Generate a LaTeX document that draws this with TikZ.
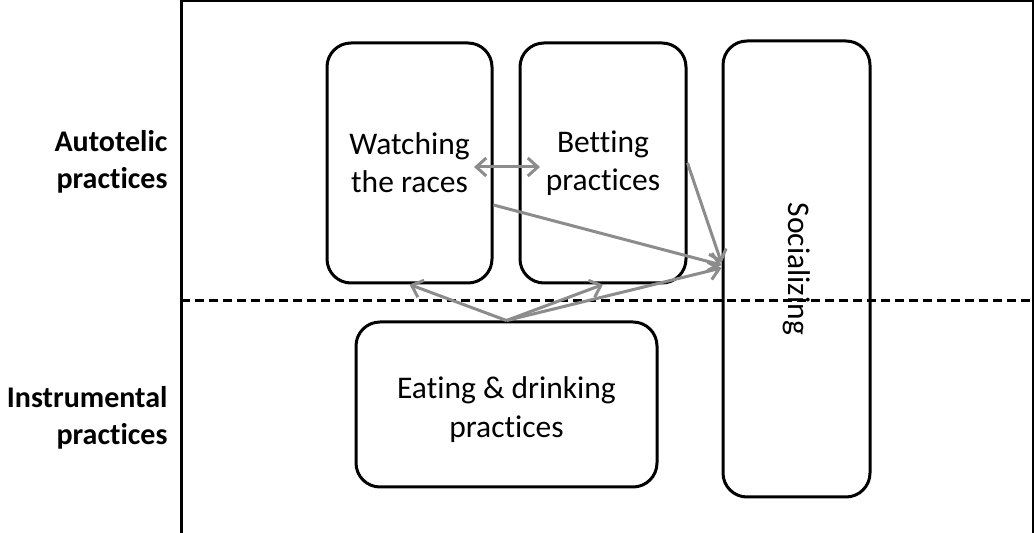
\documentclass[tikz,border=0pt]{standalone}
\usepackage{fontspec}
\setmainfont{Carlito}[Ligatures={NoCommon}]
\usetikzlibrary{arrows.meta,calc}
\begin{document}
\begin{tikzpicture}[x=1pt,y=1pt,
  box/.style={draw=black,line width=3pt,rounded corners=24pt,align=center,font=\fontsize{31.5}{38}\selectfont,inner sep=0pt},
  txt/.style={align=center,font=\fontsize{31.5}{39}\selectfont,inner sep=0pt},
  conn/.style={draw=gray!90!white,line width=3pt,-{Straight Barb[length=10pt,width=18pt,line width=3pt]}},
  lab/.style={font=\bfseries\fontsize{30}{37}\selectfont,align=right,anchor=east}]
\useasboundingbox (0,0) rectangle (1034,533);
\draw[line width=3pt] (181,0) -- (181,532) -- (1033,532) -- (1033,0);
\draw[line width=3pt,dash pattern=on 9pt off 5pt] (181,232) -- (1034,232);
\node[box,minimum width=165pt,minimum height=240pt] (watch) at (409.5,370) {Watching\\the races};
\node[box,minimum width=166pt,minimum height=240pt] (bet) at (603,370) {Betting\\practices};
\node[box,minimum width=147pt,minimum height=456pt] (soc) at (796.5,264) {\rotatebox{-90}{Socializing}};
\node[box,minimum width=301pt,minimum height=165pt] (eat) at (506.5,128.5) {};
\node[txt] (eattxt) at ([yshift=-5pt]eat.center) {Eating \& drinking\\practices};
\node[lab] (auto) at (171,371) {Autotelic\\practices};
\node[lab] (instr) at (171,115.5) {Instrumental\\practices};
\coordinate (d1) at (474,366);
\coordinate (d2) at (540,366);
\draw[conn,{Straight Barb[length=10pt,width=18pt,line width=3pt]}-{Straight Barb[length=10pt,width=18pt,line width=3pt]}] (d1) -- (d2);
\draw[conn] ([yshift=-42pt]watch.east) -- ([yshift=4pt]soc.west);
\draw[conn] (bet.east) -- ([yshift=6pt]soc.west);
\draw[conn] (eat.north) -- (watch.south);
\draw[conn] (eat.north) -- (bet.south);
\draw[conn] (eat.north) -- ([yshift=1pt]soc.west);
\end{tikzpicture}
\end{document}
